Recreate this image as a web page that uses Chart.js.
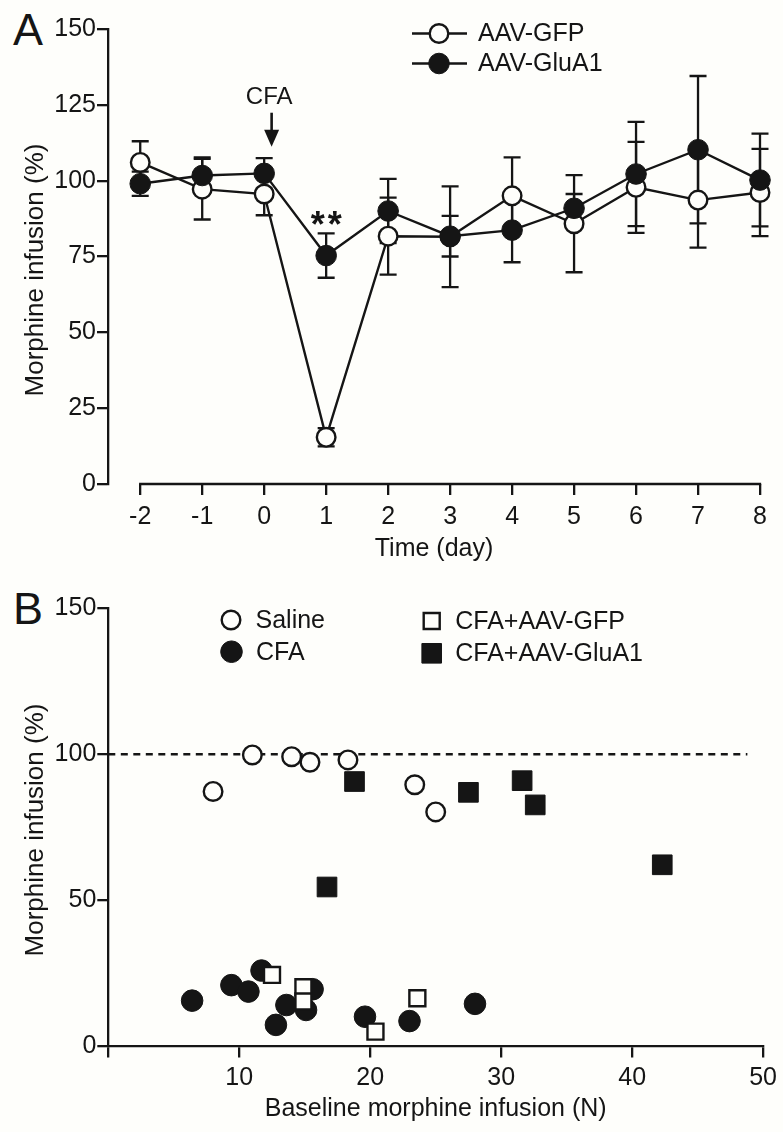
<!DOCTYPE html>
<html>
<head>
<meta charset="utf-8">
<script src="https://cdn.jsdelivr.net/npm/chart.js@4.4.1/dist/chart.umd.min.js"></script>
<style>
  html, body { margin: 0; padding: 0; background: #fefefb; }
  #wrap { position: relative; width: 783px; height: 1132px; }
  .panel { position: absolute; left: 0; width: 783px; }
  #panelA { top: 0; height: 570px; }
  #panelB { top: 570px; height: 562px; }
  .letter {
    position: absolute; left: 13px; line-height: 1;
    font-family: 'Liberation Sans', Arial, sans-serif; font-size: 45px; color: #151515;
  }
</style>
</head>
<body>
<div id="wrap">
  <div class="letter" style="top:7px">A</div>
  <div class="letter" style="top:586px">B</div>
  <canvas id="panelA" class="panel" width="783" height="570"></canvas>
  <canvas id="panelB" class="panel" width="783" height="562"></canvas>
</div>
<script>
// ---- Panel A: morphine infusion over time ----
const days = [-2, -1, 0, 1, 2, 3, 4, 5, 6, 7, 8];
const gfpMean = [106, 97.2, 95.6, 15.4, 81.7, 81.5, 95, 85.8, 97.8, 93.6, 96.1];
const gfpErr  = [7, 10, 7, 3, 12.7, 16.6, 12.7, 16, 15, 15.7, 14.4];
const gluMean = [99, 101.7, 102.4, 75.3, 90, 81.7, 83.7, 90.9, 102.2, 110.2, 100.2];
const gluErr  = [4, 6, 5, 7.3, 10.6, 6.7, 10.6, 4.7, 17.2, 24.3, 15.3];
const yTicksA = [0, 25, 50, 75, 100, 125, 150];

// ---- Panel B: baseline vs. post infusion ----
const salineX = [8.0, 11.0, 14.0, 15.4, 18.3, 23.4, 25.0];
const salineY = [87.3, 99.8, 99.2, 97.3, 98.1, 89.6, 80.3];
const cfaX = [6.4, 9.4, 10.7, 11.7, 12.8, 13.6, 15.1, 15.6, 19.6, 23.0, 28.0];
const cfaY = [15.7, 21.0, 18.8, 26.0, 7.4, 14.2, 12.5, 19.6, 10.2, 8.7, 14.6];
const gfpX = [12.5, 14.9, 14.9, 20.4, 23.6];
const gfpY = [24.5, 20.3, 15.4, 5.1, 16.5];
const gluX = [16.7, 18.8, 27.5, 31.6, 32.6, 42.3];
const gluY = [54.6, 90.7, 87.0, 91.0, 82.7, 62.2];
const refX = [0, 48.8];
const refY = [100, 100];
const xTicksB = [0, 10, 20, 30, 40, 50];
const yTicksB = [0, 50, 100, 150];

const ink = '#151515';
const paper = '#fefefb';
const family = "'Liberation Sans', Arial, sans-serif";
const pts = (xs, ys) => xs.map((x, i) => ({ x: x, y: ys[i] }));

function fixTicks(list) {
  return s => { s.ticks = list.map(v => ({ value: v })); };
}

const axisBase = {
  grid: { drawOnChartArea: false, tickLength: 11, color: ink, lineWidth: 2.3 },
  border: { color: ink, width: 2.3 }
};
const tickFont = { family: family, size: 25 };

// rotated y title, placed a bit off the axis middle like the original
function yTitle(text, centerY) {
  return {
    id: 'yTitle',
    afterDraw(chart) {
      const { ctx } = chart;
      ctx.save();
      ctx.translate(36, centerY);
      ctx.rotate(-Math.PI / 2);
      ctx.fillStyle = ink;
      ctx.font = '26px ' + family;
      ctx.textAlign = 'center';
      ctx.textBaseline = 'middle';
      ctx.fillText(text, 0, 0);
      ctx.restore();
    }
  };
}

// error bars drawn under the markers
const errorBars = {
  id: 'errorBars',
  beforeDatasetsDraw(chart) {
    const { ctx, scales: { x, y } } = chart;
    ctx.save();
    ctx.strokeStyle = ink;
    ctx.lineWidth = 2.3;
    chart.data.datasets.forEach(ds => {
      if (!ds.errors) return;
      ds.data.forEach((p, i) => {
        const px = x.getPixelForValue(p.x);
        const top = y.getPixelForValue(p.y + ds.errors[i]);
        const bot = y.getPixelForValue(p.y - ds.errors[i]);
        ctx.beginPath();
        ctx.moveTo(px, top); ctx.lineTo(px, bot);
        ctx.moveTo(px - 8.5, top); ctx.lineTo(px + 8.5, top);
        ctx.moveTo(px - 8.5, bot); ctx.lineTo(px + 8.5, bot);
        ctx.stroke();
      });
    });
    ctx.restore();
  }
};

// x axis line that only spans the day range, plus CFA arrow, stars and legend
const panelAExtras = {
  id: 'panelAExtras',
  beforeDatasetsDraw(chart) {
    const { ctx, chartArea, scales: { x } } = chart;
    ctx.save();
    ctx.strokeStyle = ink;
    ctx.lineWidth = 2.3;
    ctx.beginPath();
    ctx.moveTo(x.getPixelForValue(days[0]) - 1.15, chartArea.bottom);
    ctx.lineTo(x.getPixelForValue(days[days.length - 1]) + 1.15, chartArea.bottom);
    ctx.stroke();
    ctx.restore();
  },
  afterDraw(chart) {
    const { ctx, scales: { x, y } } = chart;
    ctx.save();
    ctx.fillStyle = ink;
    ctx.strokeStyle = ink;

    // CFA label and arrow
    const ax = x.getPixelForValue(0.12);
    ctx.font = '24px ' + family;
    ctx.textAlign = 'center';
    ctx.textBaseline = 'middle';
    ctx.fillText('CFA', x.getPixelForValue(0.08), y.getPixelForValue(127.5));
    const a0 = y.getPixelForValue(122.4), a1 = y.getPixelForValue(111.2);
    ctx.lineWidth = 2.6;
    ctx.beginPath(); ctx.moveTo(ax, a0); ctx.lineTo(ax, a1 - 14); ctx.stroke();
    ctx.beginPath();
    ctx.moveTo(ax - 7.5, a1 - 17); ctx.lineTo(ax + 7.5, a1 - 17); ctx.lineTo(ax, a1);
    ctx.closePath(); ctx.fill();

    // significance stars
    ctx.font = 'bold 36px ' + family;
    ctx.letterSpacing = '3px';
    ctx.textBaseline = 'alphabetic';
    ctx.fillText('**', x.getPixelForValue(1) + 1.5, y.getPixelForValue(88.3) + 21);
    ctx.letterSpacing = '0px';

    // legend
    const rows = [
      { label: 'AAV-GFP', fill: paper, y: 33.5 },
      { label: 'AAV-GluA1', fill: ink, y: 63.5 }
    ];
    ctx.font = '25px ' + family;
    ctx.textAlign = 'left';
    ctx.textBaseline = 'middle';
    rows.forEach(r => {
      ctx.lineWidth = 2.4;
      ctx.beginPath(); ctx.moveTo(412, r.y); ctx.lineTo(467, r.y); ctx.stroke();
      ctx.beginPath(); ctx.arc(439, r.y, r.fill === ink ? 10.3 : 9.3, 0, Math.PI * 2);
      ctx.fillStyle = r.fill; ctx.fill();
      ctx.lineWidth = r.fill === ink ? 1 : 2.4; ctx.stroke();
      ctx.fillStyle = ink;
      ctx.fillText(r.label, 478, r.y + 1);
    });
    ctx.restore();
  }
};

new Chart(document.getElementById('panelA'), {
  type: 'line',
  data: {
    datasets: [
      {
        label: 'AAV-GluA1', data: pts(days, gluMean), errors: gluErr, order: 1, clip: false,
        borderColor: ink, borderWidth: 2.4, backgroundColor: ink,
        pointBackgroundColor: ink, pointBorderColor: ink, pointBorderWidth: 1, pointRadius: 10.3
      },
      {
        label: 'AAV-GFP', data: pts(days, gfpMean), errors: gfpErr, order: 2, clip: false,
        borderColor: ink, borderWidth: 2.4, backgroundColor: paper,
        pointBackgroundColor: paper, pointBorderColor: ink, pointBorderWidth: 2.4, pointRadius: 9.3
      }
    ]
  },
  options: {
    responsive: false,
    animation: false,
    layout: { padding: { top: 29, right: 23, left: 0, bottom: 0 } },
    plugins: { legend: { display: false }, tooltip: { enabled: false } },
    scales: {
      x: {
        ...axisBase,
        type: 'linear', min: -2.52, max: 8,
        afterBuildTicks: fixTicks(days),
        border: { display: false },
        ticks: { color: ink, font: tickFont, padding: 7 },
        title: { display: true, text: 'Time (day)', color: ink, font: tickFont, padding: { top: 0, bottom: 6 } },
        afterFit: s => { s.height = 86; }
      },
      y: {
        ...axisBase,
        min: 0, max: 150,
        afterBuildTicks: fixTicks(yTicksA),
        ticks: { color: ink, font: tickFont, padding: 1 },
        afterFit: s => { s.width = 108; }
      }
    }
  },
  plugins: [errorBars, panelAExtras, yTitle('Morphine infusion (%)', 270)]
});

// legend for panel B, two columns
const panelBLegend = {
  id: 'panelBLegend',
  afterDraw(chart) {
    const { ctx } = chart;
    const items = [
      { label: 'Saline', shape: 'circle', fill: paper, x: 231, y: 50 },
      { label: 'CFA', shape: 'circle', fill: ink, x: 231.5, y: 81.7 },
      { label: 'CFA+AAV-GFP', shape: 'square', fill: paper, x: 431.7, y: 51 },
      { label: 'CFA+AAV-GluA1', shape: 'square', fill: ink, x: 431.7, y: 83.3 }
    ];
    ctx.save();
    ctx.strokeStyle = ink;
    ctx.font = '25px ' + family;
    ctx.textAlign = 'left';
    ctx.textBaseline = 'middle';
    items.forEach(it => {
      ctx.fillStyle = it.fill;
      ctx.beginPath();
      if (it.shape === 'circle') {
        ctx.arc(it.x, it.y, it.fill === ink ? 10.8 : 9.3, 0, Math.PI * 2);
        ctx.lineWidth = it.fill === ink ? 1 : 2.4;
      } else if (it.fill === ink) {
        ctx.rect(it.x - 9.8, it.y - 9.8, 19.6, 19.6);
        ctx.lineWidth = 1;
      } else {
        ctx.rect(it.x - 8, it.y - 8, 16, 16);
        ctx.lineWidth = 2.4;
      }
      ctx.fill(); ctx.stroke();
      ctx.fillStyle = ink;
      ctx.fillText(it.label, it.x + (it.shape === 'circle' ? 24.5 : 23.5), it.y + 1);
    });
    ctx.restore();
  }
};

new Chart(document.getElementById('panelB'), {
  type: 'scatter',
  data: {
    datasets: [
      {
        label: 'CFA+AAV-GluA1', data: pts(gluX, gluY), order: 1, pointStyle: 'rect', clip: false,
        pointBackgroundColor: ink, pointBorderColor: ink, pointBorderWidth: 1, pointRadius: 13.9
      },
      {
        label: 'CFA+AAV-GFP', data: pts(gfpX, gfpY), order: 2, pointStyle: 'rect', clip: false,
        pointBackgroundColor: paper, pointBorderColor: ink, pointBorderWidth: 2.4, pointRadius: 11.3
      },
      {
        label: 'Saline', data: pts(salineX, salineY), order: 3, clip: false,
        pointBackgroundColor: paper, pointBorderColor: ink, pointBorderWidth: 2.4, pointRadius: 9.3
      },
      {
        label: 'CFA', data: pts(cfaX, cfaY), order: 4, clip: false,
        pointBackgroundColor: ink, pointBorderColor: ink, pointBorderWidth: 1, pointRadius: 10.8
      },
      {
        type: 'line', label: '100%', data: pts(refX, refY), order: 5,
        borderColor: ink, borderWidth: 2.5, borderDash: [7, 5.5], pointRadius: 0
      }
    ]
  },
  options: {
    responsive: false,
    animation: false,
    layout: { padding: { top: 38.3, right: 17, left: 0, bottom: 0 } },
    plugins: { legend: { display: false }, tooltip: { enabled: false } },
    scales: {
      x: {
        ...axisBase,
        type: 'linear', min: 0, max: 50,
        afterBuildTicks: fixTicks(xTicksB),
        ticks: { color: ink, font: tickFont, padding: 6, callback: v => (v === 0 ? '' : String(v)) },
        title: { display: true, text: 'Baseline morphine infusion (N)', color: ink, font: tickFont, padding: { top: 0, bottom: 8 } },
        afterFit: s => { s.height = 85.5; }
      },
      y: {
        ...axisBase,
        min: 0, max: 150,
        afterBuildTicks: fixTicks(yTicksB),
        ticks: { color: ink, font: tickFont, padding: 1 },
        afterFit: s => { s.width = 108.3; }
      }
    }
  },
  plugins: [panelBLegend, yTitle('Morphine infusion (%)', 830 - 570)]
});
</script>
</body>
</html>
